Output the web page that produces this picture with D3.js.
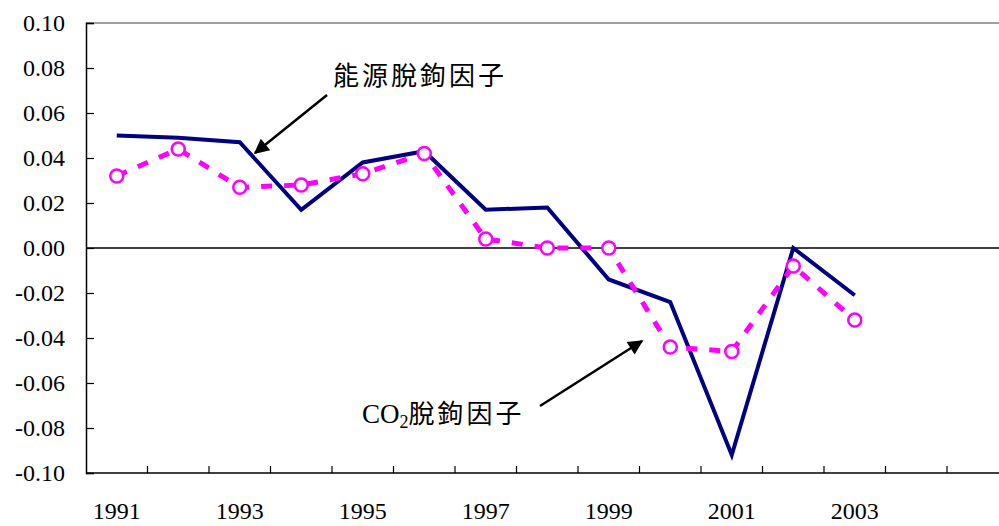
<!DOCTYPE html>
<html><head><meta charset="utf-8">
<script src="https://cdn.jsdelivr.net/npm/d3@7"></script>
<style>body{margin:0;background:#fff}svg{display:block}</style>
</head><body>
<svg id="c" width="999" height="526"></svg>
<script>
const years = ["1991","1992","1993","1994","1995","1996","1997","1998","1999","2000","2001","2002","2003","2004","2005"];
const dataYears = ["1991","1992","1993","1994","1995","1996","1997","1998","1999","2000","2001","2002","2003"];
const energy = [0.050,0.049,0.047,0.017,0.038,0.043,0.017,0.018,-0.014,-0.024,-0.092,0.000,-0.021];
const co2 = [0.032,0.044,0.027,0.028,0.033,0.042,0.004,0.000,0.000,-0.044,-0.046,-0.008,-0.032];
const yTicks = [0.10,0.08,0.06,0.04,0.02,0.00,-0.02,-0.04,-0.06,-0.08,-0.10];
const xLabels = ["1991","1993","1995","1997","1999","2001","2003"];

const svg = d3.select("#c");
const L = 86, T = 23, B = 473, band = 61.5;
const R = L + band * years.length;
const x = d3.scaleBand().domain(years).range([L, R]).padding(0);
const y = d3.scaleLinear().domain([-0.10, 0.10]).range([B, T]);
const serif = "'Times New Roman','Liberation Serif',serif";
const cjk = "'Noto Sans CJK TC','Noto Sans CJK SC',sans-serif";

// top frame
svg.append("line").attr("x1", L).attr("x2", R).attr("y1", T).attr("y2", T)
  .attr("stroke", "#808080").attr("stroke-width", 1.5);

// y axis
const yAxis = d3.axisRight(y).tickValues(yTicks).tickSize(8).tickFormat("");
const gy = svg.append("g").attr("transform", `translate(${L},0)`).call(yAxis);
gy.select(".domain").attr("stroke", "#000").attr("stroke-width", 1.5);
gy.selectAll(".tick line").attr("stroke", "#000").attr("stroke-width", 1.2);
svg.append("g").selectAll("text").data(yTicks).join("text")
  .attr("x", 65).attr("y", d => y(d)).attr("dy", "0.35em")
  .attr("text-anchor", "end").attr("font-family", serif).attr("font-size", 24)
  .text(d => d3.format(".2f")(d).replace("−", "-"));

// x axis at bottom (ticks between categories, pointing up)
const boundaries = years.slice(1).map(d => x(d));
svg.append("line").attr("x1", L).attr("x2", R).attr("y1", B).attr("y2", B)
  .attr("stroke", "#000").attr("stroke-width", 1.5);
svg.append("g").selectAll("line").data(boundaries).join("line")
  .attr("x1", d => d).attr("x2", d => d).attr("y1", B).attr("y2", B - 7)
  .attr("stroke", "#000").attr("stroke-width", 1.2);
svg.append("g").selectAll("text").data(xLabels).join("text")
  .attr("x", d => x(d) + x.bandwidth() / 2).attr("y", 519)
  .attr("text-anchor", "middle").attr("font-family", serif).attr("font-size", 24)
  .text(d => d);

// zero line
svg.append("line").attr("x1", L).attr("x2", R).attr("y1", y(0)).attr("y2", y(0))
  .attr("stroke", "#000").attr("stroke-width", 1.5);

const cx = d => x(d) + x.bandwidth() / 2;
const line = d3.line().x((d, i) => cx(dataYears[i])).y(d => y(d));

svg.append("path").datum(energy).attr("d", line).attr("fill", "none")
  .attr("stroke", "#000080").attr("stroke-width", 4).attr("stroke-linejoin", "miter");

svg.append("path").datum(co2).attr("d", line).attr("fill", "none")
  .attr("stroke", "#FF00FF").attr("stroke-width", 5).attr("stroke-dasharray", "11,12");
svg.append("g").selectAll("circle").data(co2).join("circle")
  .attr("cx", (d, i) => cx(dataYears[i])).attr("cy", d => y(d)).attr("r", 6.5)
  .attr("fill", "#fff").attr("stroke", "#FF00FF").attr("stroke-width", 2.5);

// arrows
const defs = svg.append("defs");
defs.append("marker").attr("id", "ah").attr("viewBox", "0 0 10 10")
  .attr("refX", 9).attr("refY", 5).attr("markerWidth", 7).attr("markerHeight", 6)
  .attr("markerUnits", "strokeWidth").attr("orient", "auto")
  .append("path").attr("d", "M0,0 L10,5 L0,10 z").attr("fill", "#000");
svg.append("line").attr("x1", 327).attr("y1", 95).attr("x2", 255).attr("y2", 153)
  .attr("stroke", "#000").attr("stroke-width", 2.5).attr("marker-end", "url(#ah)");
svg.append("line").attr("x1", 540).attr("y1", 406).attr("x2", 642).attr("y2", 341)
  .attr("stroke", "#000").attr("stroke-width", 2.5).attr("marker-end", "url(#ah)");

// labels
svg.append("text").attr("x", 333).attr("y", 85).attr("font-family", cjk)
  .attr("font-size", 26).attr("letter-spacing", 3).text("能源脫鉤因子");
const t2 = svg.append("text").attr("x", 362).attr("y", 423).attr("font-size", 27);
t2.append("tspan").attr("font-family", serif).text("CO");
t2.append("tspan").attr("font-family", serif).attr("font-size", 18).attr("dy", 5).text("2");
t2.append("tspan").attr("font-family", cjk).attr("font-size", 26).attr("dy", -5)
  .attr("letter-spacing", 3).text("脫鉤因子");
</script>
</body></html>
